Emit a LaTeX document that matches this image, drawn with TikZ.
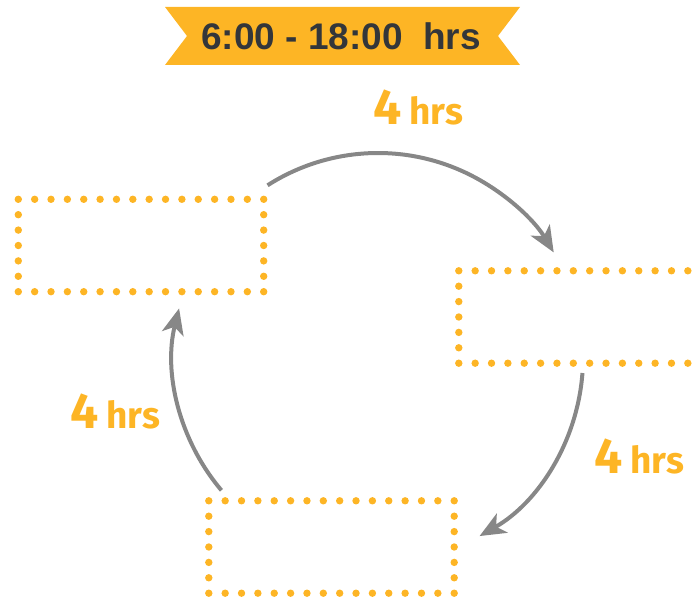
\documentclass[tikz,border=0pt]{standalone}
\usepackage{fontspec}
\setmainfont{Liberation Sans}
\newfontfamily\labelfont{Fira Sans}
\usetikzlibrary{arrows.meta,calc}
\definecolor{gold}{HTML}{FDB525}
\definecolor{ink}{HTML}{33363A}
\definecolor{arrowgray}{HTML}{878787}
\newcommand{\dottedframe}[1]{%
  \foreach \i in {0,...,15}{%
    \fill[gold] ($(#1.north west)!\i/15!(#1.north east)$) circle (3.7pt);
    \fill[gold] ($(#1.south west)!\i/15!(#1.south east)$) circle (3.7pt);
  }
  \foreach \i in {1,...,5}{%
    \fill[gold] ($(#1.north west)!\i/6!(#1.south west)$) circle (3.7pt);
    \fill[gold] ($(#1.north east)!\i/6!(#1.south east)$) circle (3.7pt);
  }}
\tikzset{
  framebox/.style={minimum width=245pt, minimum height=92pt, inner sep=0pt},
  cyclearrow/.style={draw=arrowgray, line width=4pt,
    -{Stealth[length=26pt,width=22pt,inset=7pt]}},
  hourlabel/.style={text=gold, anchor=base, inner sep=0pt, font=\labelfont\bfseries}
}
\newcommand{\hrslabel}{{\fontsize{50}{50}\selectfont 4}\hspace{8pt}{\fontsize{37}{37}\selectfont hrs}}
\begin{document}
\begin{tikzpicture}[x=1pt,y=1pt]
\useasboundingbox (0,0) rectangle (699,600);
\clip (0,0) rectangle (699,600);
% banner
\fill[gold] (165,593) -- (520,593) -- (498,564) -- (520,535) -- (165,535) -- (187,564) -- cycle;
\node[anchor=base, inner sep=0pt, text=ink, font=\bfseries\fontsize{37}{37}\selectfont] (title) at (341,550) {6:00 - 18:00\ \ hrs};
% boxes
\node[framebox] (b1) at (141,354.5) {};
\node[framebox] (b2) at (581.5,283) {};
\node[framebox] (b3) at (331.5,53) {};
\dottedframe{b1}
\dottedframe{b2}
\dottedframe{b3}
% arrows
\coordinate (c) at (378,242);
\coordinate (s1) at ($(c)+(122.6:205pt)$);
\coordinate (s2) at ($(c)+(-4.2:205pt)$);
\coordinate (s3) at ($(c)+(220.2:205pt)$);
\draw[cyclearrow] (s1) arc[start angle=122.6, end angle=31, radius=205pt];
\draw[cyclearrow] (s2) arc[start angle=-4.2, end angle=-60.3, radius=205pt];
\draw[cyclearrow] (s3) arc[start angle=220.2, end angle=166, radius=205pt];
% labels
\node[hourlabel] (l1) at (418,475) {\hrslabel};
\node[hourlabel] (l2) at (115,171) {\hrslabel};
\node[hourlabel] (l3) at (639,126) {\hrslabel};
\end{tikzpicture}
\end{document}
